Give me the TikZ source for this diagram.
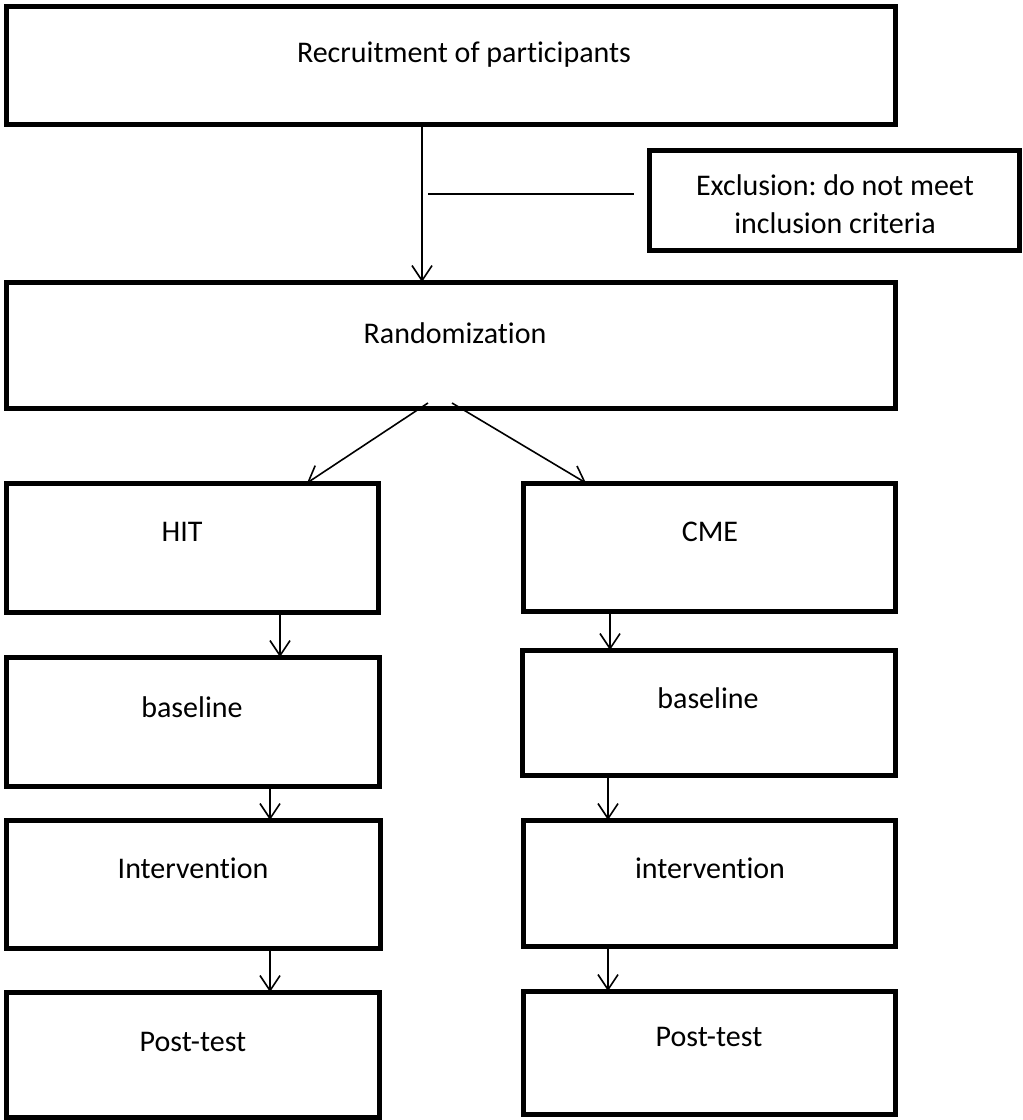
\documentclass[tikz,border=0pt]{standalone}
\usepackage{fontspec}
\setmainfont{Carlito}[Ligatures=NoCommon]
\frenchspacing
\usetikzlibrary{arrows.meta}
\begin{document}
\begin{tikzpicture}[x=1pt,y=-1pt,
  box/.style={draw=black,line width=5pt,inner sep=0pt,outer sep=0pt},
  lbl/.style={inner sep=0pt,font=\fontsize{30}{38}\selectfont,align=center},
  conn/.style={draw=black,line width=1.6pt,-{Straight Barb[length=15pt,width=20pt,line width=1.6pt]}},
  plain/.style={draw=black,line width=1.6pt}]
\useasboundingbox (0,0) rectangle (1023,1120);
% boxes: corners given by center line
\node[box,minimum width=889pt,minimum height=118pt] (recruit) at (450.5,65) {};
\node[box,minimum width=370pt,minimum height=100pt] (excl) at (834,200) {};
\node[box,minimum width=889pt,minimum height=126pt] (random) at (450.5,345) {};
\node[box,minimum width=372pt,minimum height=129pt] (hit) at (192,547.5) {};
\node[box,minimum width=372pt,minimum height=128pt] (cme) at (709,547) {};
\node[box,minimum width=373pt,minimum height=129pt] (baseL) at (192.5,721.5) {};
\node[box,minimum width=373pt,minimum height=125pt] (baseR) at (708.5,712.5) {};
\node[box,minimum width=374pt,minimum height=128pt] (intL) at (193,884) {};
\node[box,minimum width=372pt,minimum height=126pt] (intR) at (709,883) {};
\node[box,minimum width=373pt,minimum height=125pt] (postL) at (192.5,1054.5) {};
\node[box,minimum width=372pt,minimum height=123pt] (postR) at (709,1052.5) {};
% texts
\node[lbl] (t1) at (464,55) {Recruitment of participants};
\node[lbl] (t2) at (835,204) {Exclusion: do not meet\\inclusion criteria};
\node[lbl] (t3) at (455,333) {Randomization};
\node[lbl] (t4) at (182,532) {HIT};
\node[lbl] (t5) at (710,532) {CME};
\node[lbl] (t6) at (192,707) {baseline};
\node[lbl] (t7) at (708,698) {baseline};
\node[lbl] (t8) at (193,868) {Intervention};
\node[lbl] (t9) at (710,868) {intervention};
\node[lbl] (t10) at (193,1042) {Post-test};
\node[lbl] (t11) at (709,1037) {Post-test};
% connectors
\coordinate (exA) at (428,194);
\coordinate (exB) at (634,194);
\draw[plain] (exA) -- (exB);
\draw[conn] (recruit.south -| 422,0) -- (random.north -| 422,0);
\coordinate (dL) at (428,403);
\coordinate (dR) at (452,403);
\draw[conn] (dL) -- (hit.north -| 307,0);
\draw[conn] (dR) -- (cme.north -| 586,0);
\draw[conn] (hit.south -| 280,0) -- (baseL.north -| 280,0);
\draw[conn] (cme.south -| 610,0) -- (baseR.north -| 610,0);
\draw[conn] (baseL.south -| 270,0) -- (intL.north -| 270,0);
\draw[conn] (baseR.south -| 608,0) -- (intR.north -| 608,0);
\draw[conn] (intL.south -| 270,0) -- (postL.north -| 270,0);
\draw[conn] (intR.south -| 608,0) -- (postR.north -| 608,0);
\end{tikzpicture}
\end{document}
